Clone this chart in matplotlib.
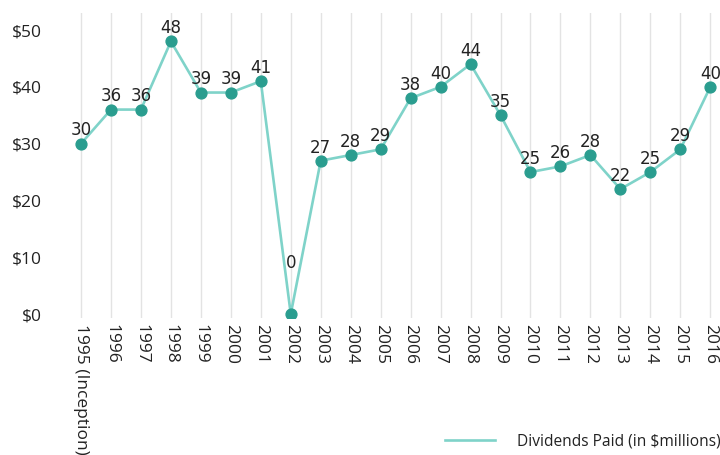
import matplotlib
matplotlib.use("Agg")
import matplotlib.pyplot as plt
import matplotlib.ticker as mticker

# ---------------------------------------------------------------------------
# Data
# ---------------------------------------------------------------------------
years = ["1995 (Inception)", "1996", "1997", "1998", "1999", "2000", "2001",
         "2002", "2003", "2004", "2005", "2006", "2007", "2008", "2009",
         "2010", "2011", "2012", "2013", "2014", "2015", "2016"]
dividends = [30, 36, 36, 48, 39, 39, 41, 0, 27, 28, 29, 38, 40, 44, 35,
             25, 26, 28, 22, 25, 29, 40]
y_ticks = [0, 10, 20, 30, 40, 50]

LINE_COLOR = "#7fd3c9"
DOT_COLOR = "#2a9d8f"
TEXT_COLOR = "#222222"

fig = plt.figure(figsize=(7.2, 4.55), dpi=100)
ax = fig.add_axes([0.1, 0.301, 0.899, 0.6704])

x = list(range(len(years)))
ax.plot(x, dividends, color=LINE_COLOR, linewidth=1.9, zorder=2,
        label="Dividends Paid (in $millions)")
ax.plot(x, dividends, "o", color=DOT_COLOR, markersize=7.8, zorder=3)

for xi, v in zip(x, dividends):
    off = 30 if v == 0 else 3
    ax.annotate(str(v), (xi, v), xytext=(0, off), textcoords="offset points",
                ha="center", va="bottom", fontsize=12, color=TEXT_COLOR,
                family="DejaVu Sans")

ax.set_xlim(-0.3, len(years) - 1 + 0.3)
ax.set_ylim(-0.7, 53)
ax.set_xticks(x)
ax.set_xticklabels(years, rotation=270, fontsize=12.5, color=TEXT_COLOR,
                   family="Open Sans", va="top", ha="center")
ax.set_yticks(y_ticks)
ax.yaxis.set_major_formatter(mticker.StrMethodFormatter("${x:.0f}"))
for lbl in ax.get_yticklabels():
    lbl.set_family("Open Sans")
    lbl.set_fontsize(12.5)
    lbl.set_color(TEXT_COLOR)

ax.tick_params(axis="both", length=0)
ax.tick_params(axis="x", pad=4)
ax.tick_params(axis="y", pad=22)
ax.grid(axis="x", color="#e3e3e3", linewidth=1.0, zorder=0)
for side in ax.spines.values():
    side.set_visible(False)

leg = fig.legend(loc="lower right", bbox_to_anchor=(1.016, -0.012), frameon=False,
                 handlelength=3.2, handletextpad=1.4, borderaxespad=0.3,
                 prop={"family": "Open Sans", "size": 11.2})
for t in leg.get_texts():
    t.set_color(TEXT_COLOR)

fig.savefig("out.png", dpi=100)
